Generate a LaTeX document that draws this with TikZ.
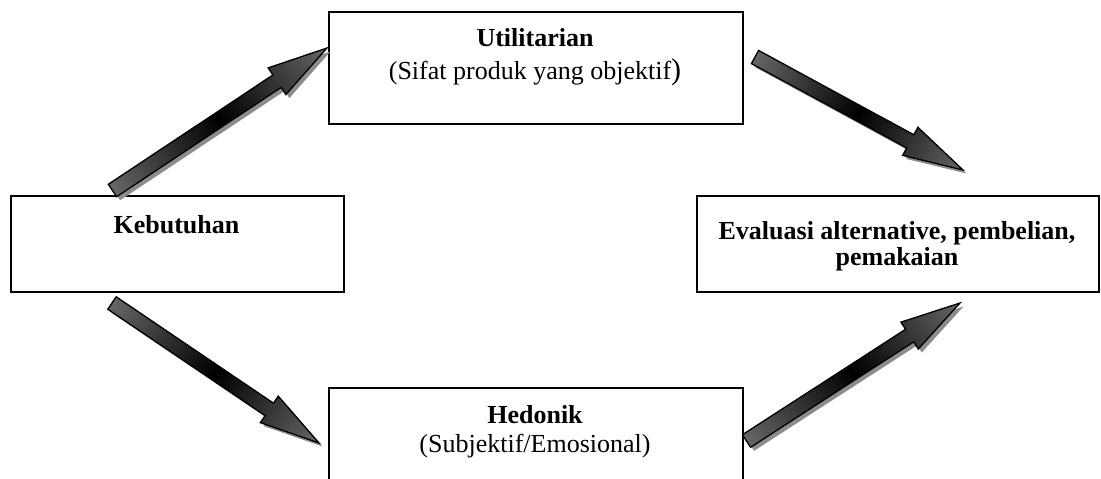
\documentclass[tikz,border=0pt]{standalone}
\usepackage{fontspec}
\setmainfont{Liberation Serif}
\usetikzlibrary{calc}

\tikzset{
  box/.style={draw=black, line width=1.8pt, rectangle, inner sep=0pt},
  title/.style={font=\fontsize{26}{30}\selectfont\bfseries, anchor=base, inner sep=0pt},
  subtitle/.style={font=\fontsize{26}{30}\selectfont, anchor=base, inner sep=0pt},
  arrowbody/.style={draw=black, line width=1.3pt, line join=miter,
    left color=black!60, right color=black!60, middle color=black},
  arrowshadow/.style={fill=black!45},
}

% Block arrow with drop shadow from coordinate #1 to coordinate #2
\newcommand{\drawblockarrow}[2]{%
  \pgfpointdiff{\pgfpointanchor{#1}{center}}{\pgfpointanchor{#2}{center}}%
  \pgfgetlastxy{\badx}{\bady}%
  \pgfmathsetmacro{\baang}{atan2(\bady,\badx)}%
  \pgfmathsetmacro{\balen}{veclen(\badx,\bady)}%
  \begin{scope}[transform canvas={shift={(#1)},shift={(3.5,3.5)},rotate=\baang}]
    \fill[arrowshadow] (0,-7.5) -- (\balen-60,-7.5) -- (\balen-60,-16) -- (\balen,0)
      -- (\balen-60,16) -- (\balen-60,7.5) -- (0,7.5) -- cycle;
  \end{scope}
  \begin{scope}[transform canvas={shift={(#1)},rotate=\baang}]
    \path[arrowbody] (0,-7.5) -- (\balen-60,-7.5) -- (\balen-60,-16) -- (\balen,0)
      -- (\balen-60,16) -- (\balen-60,7.5) -- (0,7.5) -- cycle;
  \end{scope}
}

\begin{document}
\begin{tikzpicture}[x=1pt, y=-1pt]
  \useasboundingbox (0,0) rectangle (1101,479);
  \fill[white] (0,0) rectangle (1101,479);
  \clip (0,0) rectangle (1101,479);

  % boxes
  \node[box, minimum width=414, minimum height=112, anchor=north west] (util) at (328,11) {};
  \node[box, minimum width=333, minimum height=96, anchor=north west] (keb) at (10,195) {};
  \node[box, minimum width=402, minimum height=96, anchor=north west] (eval) at (696,195) {};
  \node[box, minimum width=414, minimum height=130, anchor=north west] (hed) at (328,387) {};

  % texts
  \node[title] (utilT) at (535,46) {Utilitarian};
  \node[subtitle] (utilS) at (535,79) {(Sifat produk yang objektif{\fontsize{30}{30}\selectfont)}};
  \node[title] (kebT) at (176.5,233) {Kebutuhan};
  \node[title] (evalA) at (897,239) {Evaluasi alternative, pembelian,};
  \node[title] (evalB) at (897,265) {pemakaian};
  \node[title] (hedT) at (535,423) {Hedonik};
  \node[subtitle] (hedS) at (535,452) {(Subjektif/Emosional)};

  % arrow end points
  \coordinate (a1s) at (112.5,190.5);
  \coordinate (a1e) at (327,48);
  \coordinate (a2s) at (112,303);
  \coordinate (a2e) at (319,443);
  \coordinate (a3s) at (755,57);
  \coordinate (a3e) at (963,170);
  \coordinate (a4s) at (746.5,441);
  \coordinate (a4e) at (960,303);

  \drawblockarrow{a1s}{a1e}
  \drawblockarrow{a2s}{a2e}
  \drawblockarrow{a3s}{a3e}
  \drawblockarrow{a4s}{a4e}
\end{tikzpicture}
\end{document}
